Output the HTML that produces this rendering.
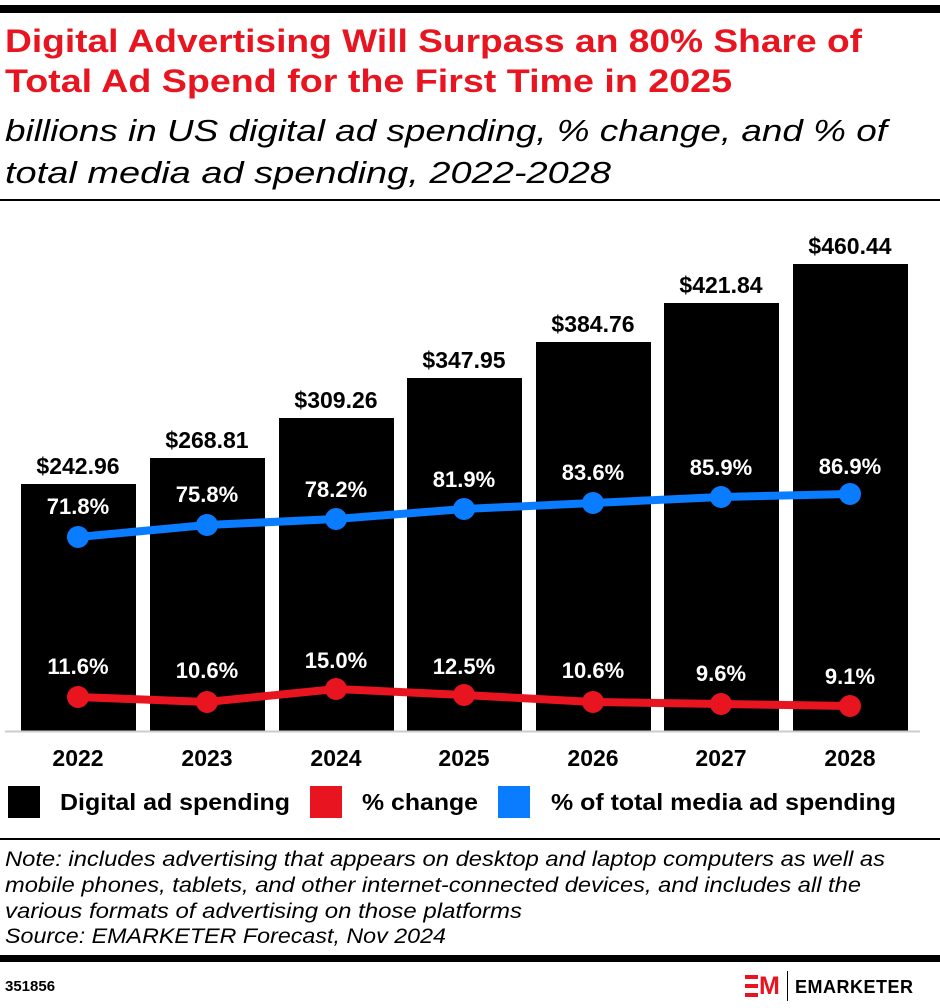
<!DOCTYPE html>
<html><head><style>
body{margin:0;background:#fff;width:940px;height:1008px;overflow:hidden;font-family:"Liberation Sans",sans-serif;position:relative}
.t{position:absolute;left:5px;white-space:nowrap}
</style></head><body>
<div style="position:absolute;left:0;top:5px;width:940px;height:8px;background:#000"></div>
<div style="position:absolute;left:0;top:199px;width:940px;height:2px;background:#000"></div>
<svg style="position:absolute;left:0;top:0" width="940" height="1008" font-family="Liberation Sans, sans-serif" font-weight="bold" text-anchor="middle">
<g font-size="32" fill="#e8141f" text-anchor="start">
<text x="5" y="52" textLength="857" lengthAdjust="spacingAndGlyphs">Digital Advertising Will Surpass an 80% Share of</text>
<text x="5" y="92" textLength="727" lengthAdjust="spacingAndGlyphs">Total Ad Spend for the First Time in 2025</text>
</g>
<g font-size="31" fill="#000" font-weight="normal" font-style="italic" text-anchor="start">
<text x="5" y="141" textLength="882" lengthAdjust="spacingAndGlyphs">billions in US digital ad spending, % change, and % of</text>
<text x="5" y="183" textLength="606" lengthAdjust="spacingAndGlyphs">total media ad spending, 2022-2028</text>
</g>
<g fill="#000">
<rect x="21" y="484" width="115" height="247"/>
<rect x="150" y="458" width="115" height="273"/>
<rect x="279" y="418" width="115" height="313"/>
<rect x="407" y="378" width="115" height="353"/>
<rect x="536" y="342" width="115" height="389"/>
<rect x="664" y="303" width="115" height="428"/>
<rect x="793" y="264" width="115" height="467"/>
</g>
<line x1="5" y1="731.5" x2="920" y2="731.5" stroke="#ccc" stroke-width="2"/>
<g font-size="23" fill="#000">
<text x="78" y="474">$242.96</text><text x="207" y="448">$268.81</text><text x="336" y="408">$309.26</text><text x="464" y="368">$347.95</text><text x="593" y="332">$384.76</text><text x="721" y="293">$421.84</text><text x="850" y="254">$460.44</text>
</g>
<polyline points="78,537 207,525 336,519 464,509 593,503 721,497 850,494" fill="none" stroke="#0a7cff" stroke-width="8"/>
<g fill="#0a7cff"><circle cx="78" cy="537" r="11"/><circle cx="207" cy="525" r="11"/><circle cx="336" cy="519" r="11"/><circle cx="464" cy="509" r="11"/><circle cx="593" cy="503" r="11"/><circle cx="721" cy="497" r="11"/><circle cx="850" cy="494" r="11"/></g>
<g font-size="22" fill="#fff">
<text x="78" y="514">71.8%</text><text x="207" y="502">75.8%</text><text x="336" y="497">78.2%</text><text x="464" y="487">81.9%</text><text x="593" y="480">83.6%</text><text x="721" y="475">85.9%</text><text x="850" y="474">86.9%</text>
</g>
<polyline points="78,697 207,702 336,689 464,695 593,702 721,704 850,706" fill="none" stroke="#e8141f" stroke-width="8"/>
<g fill="#e8141f"><circle cx="78" cy="697" r="11"/><circle cx="207" cy="702" r="11"/><circle cx="336" cy="689" r="11"/><circle cx="464" cy="695" r="11"/><circle cx="593" cy="702" r="11"/><circle cx="721" cy="704" r="11"/><circle cx="850" cy="706" r="11"/></g>
<g font-size="22" fill="#fff">
<text x="78" y="674">11.6%</text><text x="207" y="678">10.6%</text><text x="336" y="668">15.0%</text><text x="464" y="674">12.5%</text><text x="593" y="678">10.6%</text><text x="721" y="681">9.6%</text><text x="850" y="684">9.1%</text>
</g>
<g font-size="23" fill="#000">
<text x="78" y="766">2022</text><text x="207" y="766">2023</text><text x="336" y="766">2024</text><text x="464" y="766">2025</text><text x="593" y="766">2026</text><text x="721" y="766">2027</text><text x="850" y="766">2028</text>
</g>
<rect x="8" y="786" width="32" height="32" fill="#000"/>
<rect x="310" y="786" width="32" height="32" fill="#e8141f"/>
<rect x="498" y="786" width="32" height="32" fill="#0a7cff"/>
<g font-size="23" fill="#000" text-anchor="start">
<text x="60" y="810" textLength="230" lengthAdjust="spacingAndGlyphs">Digital ad spending</text>
<text x="362" y="810" textLength="116" lengthAdjust="spacingAndGlyphs">% change</text>
<text x="551" y="810" textLength="345" lengthAdjust="spacingAndGlyphs">% of total media ad spending</text>
</g>
<g font-size="21" fill="#000" font-weight="normal" font-style="italic" text-anchor="start">
<text x="5" y="866" textLength="880" lengthAdjust="spacingAndGlyphs">Note: includes advertising that appears on desktop and laptop computers as well as</text>
<text x="5" y="892" textLength="856" lengthAdjust="spacingAndGlyphs">mobile phones, tablets, and other internet-connected devices, and includes all the</text>
<text x="5" y="918" textLength="517" lengthAdjust="spacingAndGlyphs">various formats of advertising on those platforms</text>
<text x="5" y="943" textLength="441" lengthAdjust="spacingAndGlyphs">Source: EMARKETER Forecast, Nov 2024</text>
</g>
</svg>
<div style="position:absolute;left:0;top:838px;width:940px;height:2px;background:#000"></div>
<div style="position:absolute;left:0;top:955px;width:940px;height:7px;background:#000"></div>
<div class="t" style="top:978px;font-size:15px;font-weight:bold">351856</div>
<div style="position:absolute;left:745px;top:975px;width:13px;height:22px;border-top:4px solid #e8141f;border-bottom:4px solid #e8141f;box-sizing:border-box"></div>
<div style="position:absolute;left:745px;top:984px;width:13px;height:4px;background:#e8141f"></div>
<div style="position:absolute;left:759px;top:972px;font-size:25px;font-weight:bold;color:#e8141f;line-height:28px">M</div>
<div style="position:absolute;left:787px;top:971px;width:1px;height:30px;background:#000"></div>
<div style="position:absolute;left:795px;top:976px;font-size:18px;font-weight:bold;line-height:22px;letter-spacing:0.5px">EMARKETER</div>
</body></html>
